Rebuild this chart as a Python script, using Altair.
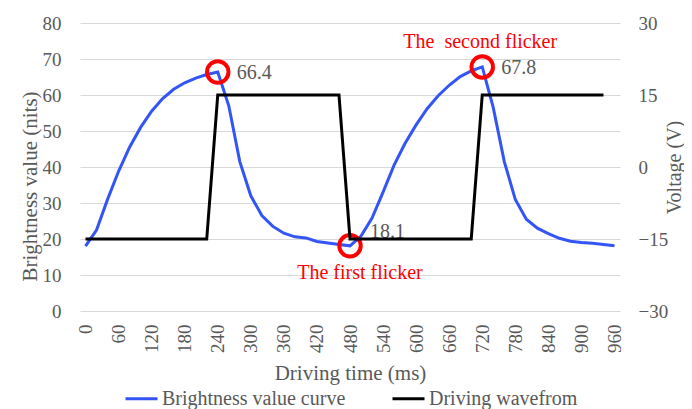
import altair as alt
import pandas as pd

# ---- data ----
time_ms = [0, 20, 40, 60, 80, 100, 120, 140, 160, 180, 200, 220, 240,
           260, 280, 300, 320, 340, 360, 380, 400, 420, 440, 460, 480,
           500, 520, 540, 560, 580, 600, 620, 640, 660, 680, 700, 720,
           740, 760, 780, 800, 820, 840, 860, 880, 900, 920, 940, 960]
brightness = [18.0, 22.5, 31.0, 38.8, 45.5, 51.0, 55.5, 59.0, 61.6, 63.4, 64.7, 65.7, 66.4,
              57.0, 41.5, 32.0, 26.5, 23.5, 21.6, 20.6, 20.3, 19.3, 18.9, 18.5, 18.1,
              20.8, 25.8, 33.0, 40.5, 46.6, 51.7, 56.2, 59.8, 62.7, 65.1, 66.7, 67.8,
              56.5, 41.5, 31.0, 25.5, 23.0, 21.5, 20.2, 19.4, 19.0, 18.8, 18.5, 18.1]
wave_time = [0, 20, 40, 60, 80, 100, 120, 140, 160, 180, 200, 220, 240,
             260, 280, 300, 320, 340, 360, 380, 400, 420, 440, 460, 480,
             500, 520, 540, 560, 580, 600, 620, 640, 660, 680, 700, 720,
             740, 760, 780, 800, 820, 840, 860, 880, 900, 920, 940]
voltage = [-15, -15, -15, -15, -15, -15, -15, -15, -15, -15, -15, -15,
           15, 15, 15, 15, 15, 15, 15, 15, 15, 15, 15, 15,
           -15, -15, -15, -15, -15, -15, -15, -15, -15, -15, -15, -15,
           15, 15, 15, 15, 15, 15, 15, 15, 15, 15, 15, 15]
peak_time = [240, 480, 720]
peak_value = [66.4, 18.1, 67.8]
peak_label = ["66.4", "18.1", "67.8"]
flicker_text = ["The first flicker", "The\u00a0 second flicker"]
flicker_time = [480, 720]
flicker_value = [18.1, 67.8]
series_names = ["Brightness value curve", "Driving wavefrom"]
x_ticks = [0, 60, 120, 180, 240, 300, 360, 420, 480, 540, 600, 660, 720, 780, 840, 900, 960]
left_ticks = [0, 10, 20, 30, 40, 50, 60, 70, 80]
right_ticks = [-30, -15, 0, 15, 30]

FONT = "Liberation Serif"
GRAY = "#595959"
BLUE = "#3355F5"
RED = "#FF0000"

bdf = pd.DataFrame({"t": time_ms, "v": brightness, "series": series_names[0]})
wdf = pd.DataFrame({"t": wave_time, "v": voltage, "series": series_names[1]})
pdf = pd.DataFrame({"t": peak_time, "v": peak_value, "label": peak_label})
fdf = pd.DataFrame({"t": flicker_time, "v": flicker_value, "label": flicker_text})

xscale = alt.Scale(domain=[-10, 970], nice=False, zero=False)
xaxis = alt.Axis(values=x_ticks, title="Driving time (ms)", labelAngle=270,
                 labelPadding=13, grid=False, domain=False, ticks=False,
                 labelOverlap=False, titleY=62, titleBaseline="middle")
yleft_scale = alt.Scale(domain=[0, 80], nice=False)
yleft_axis = alt.Axis(values=left_ticks, title="Brightness value (nits)", grid=True,
                      labelPadding=19, domain=False, ticks=False, labelOverlap=False,
                      titleX=-50, titleY=163, titleBaseline="middle")

X = alt.X("t:Q", scale=xscale, axis=xaxis)
YL = alt.Y("v:Q", scale=yleft_scale, axis=yleft_axis)

color = alt.Color(
    "series:N",
    scale=alt.Scale(domain=series_names, range=[BLUE, "black"]),
    legend=alt.Legend(title=None, orient="none", legendX=44, legendY=358,
                      direction="horizontal", symbolType="stroke", symbolSize=1024,
                      symbolStrokeWidth=3, labelFont=FONT, labelFontSize=20,
                      labelColor=GRAY, columnPadding=40, labelOffset=3, labelLimit=400,
                      padding=0),
)

blue = alt.Chart(bdf).mark_line(strokeWidth=3).encode(x=X, y=YL, color=color)

circles = alt.Chart(pdf).mark_point(shape="circle", size=460, filled=False,
                                    color=RED, strokeWidth=4, opacity=1).encode(x=X, y=YL)

labels_hi = alt.Chart(pdf).transform_filter(alt.datum.t != 480).mark_text(
    align="left", baseline="middle", dx=19, dy=1, font=FONT, fontSize=20, color=GRAY
).encode(x=X, y=YL, text="label:N")

labels_lo = alt.Chart(pdf).transform_filter(alt.datum.t == 480).mark_text(
    align="left", baseline="middle", dx=20, dy=-14, font=FONT, fontSize=20, color=GRAY
).encode(x=X, y=YL, text="label:N")

flick1 = alt.Chart(fdf).transform_filter(alt.datum.t == 480).mark_text(
    align="center", baseline="middle", dx=10, dy=27, font=FONT, fontSize=20, color=RED
).encode(x=X, y=YL, text="label:N")

flick2 = alt.Chart(fdf).transform_filter(alt.datum.t == 720).mark_text(
    align="center", baseline="middle", dx=-2, dy=-25, font=FONT, fontSize=20, color=RED
).encode(x=X, y=YL, text="label:N")

left = alt.layer(blue, circles, labels_hi, labels_lo, flick1, flick2)

black = alt.Chart(wdf).mark_line(strokeWidth=3).encode(
    x=X,
    y=alt.Y("v:Q", scale=alt.Scale(domain=[-30, 30], nice=False),
            axis=alt.Axis(orient="right", values=right_ticks, title="Voltage (V)",
                          grid=False, labelPadding=18, titleAngle=270,
                          titleX=54, titleY=144, titleBaseline="middle", titleFontSize=20,
                          domain=False, ticks=False, labelOverlap=False)),
    color=color,
)

chart = alt.layer(left, black).resolve_scale(y="independent").properties(
    width=540, height=288,
    autosize=alt.AutoSizeParams(type="none"),
    padding={"left": 72, "top": 15, "right": 64, "bottom": 98},
).configure_axis(
    labelFont=FONT, titleFont=FONT, labelColor=GRAY, titleColor=GRAY,
    labelFontSize=19, titleFontSize=21, titleFontWeight="normal",
    gridColor="#D9D9D9", gridWidth=1,
).configure_view(stroke=None)

chart.save("out.html", embed_options={"renderer": "svg", "actions": False})
